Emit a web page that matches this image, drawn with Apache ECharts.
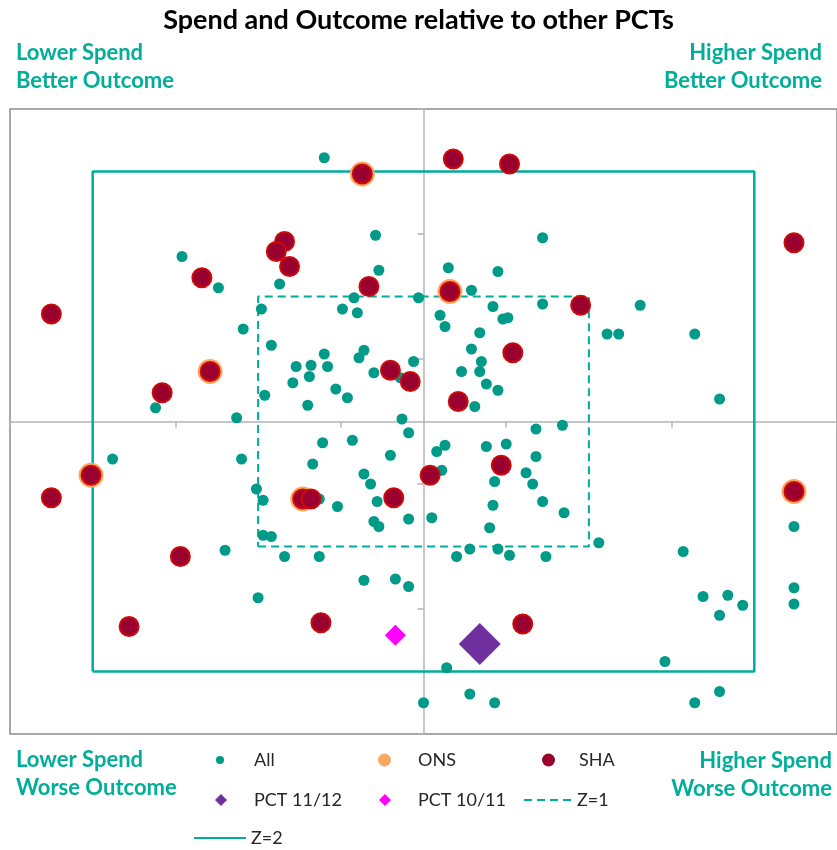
<!DOCTYPE html>
<html>
<head>
<meta charset="utf-8">
<script src="https://cdn.jsdelivr.net/npm/echarts@6/dist/echarts.min.js"></script>
<style>
  html, body { margin: 0; padding: 0; background: #fff; }
  #chart { width: 837px; height: 850px; }
</style>
</head>
<body>
<div id="chart"></div>
<script>
// z-scores: [spend, outcome]
var allPoints = [
  [-0.60, 2.11], [-0.29, 1.49], [-1.46, 1.32], [-0.27, 1.21], [-1.24, 1.07], [-0.87, 1.10],
  [-0.42, 0.99], [-0.03, 0.99], [-0.98, 0.90], [-0.49, 0.90], [-0.40, 0.87], [-1.09, 0.74],
  [-0.92, 0.61], [-0.36, 0.57], [-0.60, 0.54], [-0.39, 0.51], [-0.06, 0.48], [-0.77, 0.44],
  [-0.68, 0.45], [-0.58, 0.44], [-0.69, 0.36], [-0.79, 0.31], [-0.30, 0.39], [-0.14, 0.35],
  [-1.62, 0.11], [-0.96, 0.21], [-0.53, 0.26], [-0.46, 0.19], [-0.70, 0.13], [-1.13, 0.03],
  [-0.13, 0.02], [0.72, 1.47], [0.15, 1.23], [0.45, 1.20], [0.29, 1.05], [0.42, 0.92],
  [0.72, 0.94], [1.31, 0.93], [0.10, 0.85], [0.13, 0.76], [0.48, 0.82], [0.51, 0.83],
  [0.34, 0.71], [1.11, 0.70], [1.18, 0.70], [1.64, 0.70], [0.29, 0.58], [0.35, 0.48],
  [0.23, 0.40], [0.34, 0.40], [0.38, 0.30], [0.45, 0.25], [0.31, 0.12], [1.79, 0.18],
  [0.68, -0.06], [0.84, -0.03], [-0.09, -0.09], [-0.61, -0.17], [-0.43, -0.15], [-1.88, -0.30],
  [-1.10, -0.30], [-0.20, -0.27], [-0.67, -0.34], [-0.36, -0.42], [-0.32, -0.50], [-1.01, -0.54],
  [-0.97, -0.63], [-0.63, -0.62], [-0.52, -0.68], [-0.28, -0.64], [-0.30, -0.80], [-0.27, -0.84],
  [-0.09, -0.78], [0.05, -0.77], [-0.97, -0.91], [-0.92, -0.92], [-1.20, -1.03], [-0.84, -1.08],
  [-0.63, -1.08], [-0.36, -1.27], [-0.17, -1.26], [-0.09, -1.32], [-1.00, -1.41], [0.00, -2.25],
  [0.08, -0.24], [0.13, -0.19], [0.38, -0.20], [0.50, -0.18], [0.68, -0.28], [0.11, -0.39],
  [0.62, -0.41], [0.66, -0.50], [0.43, -0.48], [0.42, -0.67], [0.72, -0.64], [0.85, -0.73],
  [0.40, -0.85], [1.06, -0.97], [0.28, -1.02], [0.45, -1.02], [0.20, -1.08], [0.52, -1.07],
  [0.74, -1.08], [1.57, -1.04], [2.24, -0.84], [2.24, -1.33], [2.24, -1.46], [1.69, -1.40],
  [1.84, -1.39], [1.93, -1.47], [1.79, -1.55], [1.46, -1.92], [0.14, -1.97], [0.28, -2.18],
  [0.43, -2.25], [1.64, -2.25], [1.79, -2.16]
];

var onsPoints = [
  [-0.37, 1.98], [-1.29, 0.40], [0.16, 1.04], [-2.01, -0.43], [-0.73, -0.62], [2.24, -0.56]
];

var shaPoints = [
  [-0.37, 1.98], [-0.84, 1.44], [-0.89, 1.36], [-0.81, 1.24], [-1.34, 1.15], [-0.33, 1.08],
  [-2.25, 0.86], [-0.20, 0.41], [-0.08, 0.32], [-1.29, 0.40], [-1.58, 0.23], [0.18, 2.10],
  [0.52, 2.06], [2.24, 1.43], [0.16, 1.04], [0.95, 0.93], [0.54, 0.55], [0.21, 0.16],
  [-2.01, -0.43], [0.04, -0.43], [-2.25, -0.61], [-0.73, -0.62], [-0.68, -0.62], [-0.18, -0.61],
  [-1.47, -1.08], [-1.78, -1.64], [-0.62, -1.61], [0.47, -0.35], [2.24, -0.56], [0.60, -1.62]
];

var pct1112 = [[0.34, -1.78]];
var pct1011 = [[-0.17, -1.71]];

var z1Box = [[-1, -1], [1, -1], [1, 1], [-1, 1], [-1, -1]];
var z2Box = [[-2, -2], [2, -2], [2, 2], [-2, 2], [-2, -2]];

var teal = '#009A88';
var lineTeal = '#00AC9C';
var labelTeal = '#00AE99';
var fontName = 'Lato';

var chart = echarts.init(document.getElementById('chart'));

// one legend per entry so each sits where the original has it;
// textPad pushes the label right of a small icon
function legendItem(name, left, top, w, h, textPad, extra) {
  var l = {
    data: [name],
    left: left,
    top: top,
    padding: 0,
    itemWidth: w,
    itemHeight: h,
    selectedMode: false,
    textStyle: {
      fontFamily: fontName, fontSize: 18, color: '#262626', lineHeight: 20,
      padding: [0, 0, 0, textPad]
    }
  };
  if (extra) l.itemStyle = extra;
  return l;
}

function cornerLabel(text, x, align, top) {
  return {
    text: text,
    left: x,
    top: top,
    padding: 0,
    textAlign: align,
    textStyle: { fontFamily: fontName, fontSize: 22, fontWeight: 'bold', color: labelTeal, lineHeight: 28 }
  };
}

var hideDot = { color: 'rgba(0,0,0,0)', borderWidth: 0 };

var option = {
  backgroundColor: '#fff',
  animation: false,
  title: [
    {
      text: 'Spend and Outcome relative to other PCTs',
      left: 'center',
      top: 5,
      padding: 0,
      textStyle: { fontFamily: fontName, fontSize: 27, fontWeight: 'bold', color: '#000', lineHeight: 30 }
    },
    cornerLabel('Lower Spend\nBetter Outcome', 16, 'left', 39),
    cornerLabel('Higher Spend\nBetter Outcome', 822, 'right', 39),
    cornerLabel('Lower Spend\nWorse Outcome', 16, 'left', 746),
    cornerLabel('Higher Spend\nWorse Outcome', 832, 'right', 747)
  ],
  legend: [
    legendItem('All', 216, 750, 8, 8, 25),
    legendItem('ONS', 378, 750, 13, 13, 22),
    legendItem('SHA', 542, 750, 13, 13, 19, { borderWidth: 0 }),
    legendItem('PCT 11/12', 215, 790, 12, 12, 22),
    legendItem('PCT 10/11', 379, 790, 12, 12, 22),
    legendItem('Z=1', 523, 790, 48, 10, 0, hideDot),
    legendItem('Z=2', 193, 828, 52, 10, 0, hideDot)
  ],
  grid: {
    left: 10,
    top: 109,
    width: 830,
    height: 625,
    show: true,
    borderColor: '#8C8C8C',
    borderWidth: 1.5,
    containLabel: false
  },
  xAxis: {
    type: 'value',
    min: -2.5,
    max: 2.5,
    interval: 1,
    axisLine: { onZero: true, lineStyle: { color: '#B4B4B4', width: 1.5 } },
    axisTick: { show: true, length: 6, lineStyle: { color: '#B4B4B4', width: 1.5 } },
    axisLabel: { show: false },
    splitLine: { show: false }
  },
  yAxis: {
    type: 'value',
    min: -2.5,
    max: 2.5,
    interval: 1,
    axisLine: { onZero: true, lineStyle: { color: '#B4B4B4', width: 1.5 } },
    axisTick: { show: true, length: 6, lineStyle: { color: '#B4B4B4', width: 1.5 } },
    axisLabel: { show: false },
    splitLine: { show: false }
  },
  series: [
    {
      name: 'Z=2',
      type: 'line',
      data: z2Box,
      symbol: 'none',
      silent: true,
      z: 1,
      lineStyle: { color: lineTeal, width: 2.5, type: 'solid' },
      itemStyle: { color: lineTeal }
    },
    {
      name: 'Z=1',
      type: 'line',
      data: z1Box,
      symbol: 'none',
      silent: true,
      z: 1,
      lineStyle: { color: lineTeal, width: 2, type: [8, 5] },
      itemStyle: { color: lineTeal }
    },
    {
      name: 'All',
      type: 'scatter',
      data: allPoints,
      symbol: 'circle',
      symbolSize: 11,
      z: 2,
      itemStyle: { color: teal, opacity: 1 }
    },
    {
      name: 'ONS',
      type: 'scatter',
      data: onsPoints,
      symbol: 'circle',
      symbolSize: 25,
      z: 3,
      itemStyle: { color: '#F8A862', opacity: 1 }
    },
    {
      name: 'SHA',
      type: 'scatter',
      data: shaPoints,
      symbol: 'circle',
      symbolSize: 19,
      z: 4,
      itemStyle: { color: '#990030', borderColor: '#CC0A0A', borderWidth: 2, opacity: 1 }
    },
    {
      name: 'PCT 11/12',
      type: 'scatter',
      data: pct1112,
      symbol: 'diamond',
      symbolSize: 42,
      z: 5,
      itemStyle: { color: '#7030A0', opacity: 1 }
    },
    {
      name: 'PCT 10/11',
      type: 'scatter',
      data: pct1011,
      symbol: 'diamond',
      symbolSize: 21,
      z: 5,
      itemStyle: { color: '#FF00FF', opacity: 1 }
    }
  ]
};

chart.setOption(option);
</script>
</body>
</html>
